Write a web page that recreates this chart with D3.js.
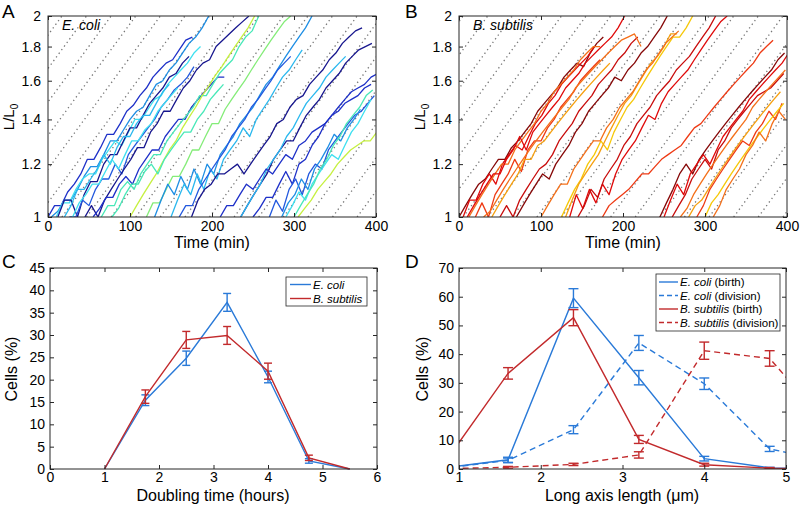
<!DOCTYPE html>
<html><head><meta charset="utf-8">
<script src="https://cdn.jsdelivr.net/npm/d3@7"></script>
<style>body{margin:0;background:#fff}</style>
</head><body>
<script>
// ---------------- DATA ----------------
// Panel A/B: single-cell length trajectories, L/L0 sampled every 8 min from start time
const sampleStep = 8;
const ecoliPalette = ["#17168e","#1e30c8","#2258de","#1e8ee4","#2ab8ee","#3ee0f0","#48e8b8","#84ec78","#c6f040"];
const ecoliStart = [0,4,10,12,20,26,45,30,55,65,100,120,78,130,150,175,160,235,250,270,235,290,305,285,300,210];
const ecoliColor = [1,3,5,0,4,2,0,5,1,6,8,7,6,3,4,0,2,0,1,2,4,5,8,3,6,1];
const ecoliLength = [
 [1.00,1.04,1.04,1.09,1.12,1.16,1.22,1.22,1.27,1.33,1.33,1.38,1.44,1.47,1.52,1.56,1.62,1.66,1.70,1.72,1.78,1.84,1.86],
 [1.00,1.02,1.06,1.06,1.10,1.15,1.19,1.19,1.24,1.30,1.30,1.35,1.40,1.44,1.46,1.52,1.58,1.60,1.66,1.70,1.76,1.82,1.86,1.92,2.00],
 [1.00,1.05,1.05,1.10,1.14,1.16,1.16,1.22,1.26,1.30,1.28,1.34,1.40,1.40,1.45,1.50,1.52,1.58,1.62,1.66,1.70,1.76,1.80],
 [1.00,1.06,1.06,1.00,1.08,1.13,1.13,1.20,1.24,1.24,1.30,1.36,1.36,1.42,1.48,1.52,1.56,1.62,1.64,1.70,1.74],
 [1.00,1.04,1.10,1.10,1.14,1.18,1.24,1.20,1.27,1.32,1.32,1.38,1.42,1.42,1.48,1.54,1.58],
 [1.00,1.00,1.06,1.04,1.10,1.14,1.14,1.20,1.16,1.24,1.28,1.32,1.36,1.40,1.46,1.50,1.55,1.58,1.62,1.68],
 [1.00,1.04,1.00,1.06,1.10,1.14,1.18,1.22,1.27,1.27,1.34,1.38,1.44,1.44,1.50,1.56,1.60,1.66,1.70,1.72,1.80,1.84,1.88,1.92,1.96,2.00],
 [1.00,1.05,1.08,1.12,1.12,1.17,1.22,1.18,1.24,1.30,1.30,1.35,1.38,1.44,1.48,1.52,1.56],
 [1.00,1.03,1.07,1.07,1.12,1.15,1.12,1.18,1.22,1.26,1.26,1.32,1.36,1.40,1.40,1.46,1.50,1.54,1.58,1.62,1.62],
 [1.00,1.04,1.04,1.10,1.13,1.10,1.16,1.20,1.24,1.24,1.30,1.34,1.38,1.42,1.46,1.52,1.52,1.58,1.64,1.68,1.72,1.80,1.86,1.90,2.00],
 [1.00,1.04,1.08,1.12,1.16,1.21,1.26,1.30,1.36,1.41,1.46,1.52,1.57,1.63,1.68,1.74,1.80,1.86,1.92,2.00],
 [1.00,1.05,1.05,1.10,1.15,1.15,1.20,1.26,1.26,1.32,1.38,1.38,1.45,1.50,1.55,1.60,1.66,1.72,1.78,1.84,1.90,1.96,2.00],
 [1.00,1.03,1.08,1.12,1.12,1.17,1.20,1.16,1.22,1.26,1.30,1.34,1.34,1.40,1.44,1.50,1.54,1.58],
 [1.00,1.06,1.12,1.08,1.15,1.10,1.18,1.12,1.20,1.16,1.24,1.28,1.32,1.38,1.42,1.46,1.52,1.58,1.62,1.68,1.74,1.80,1.86,1.92,2.00],
 [1.00,1.06,1.12,1.08,1.16,1.10,1.18,1.14,1.22,1.26,1.30,1.36,1.32,1.40,1.45,1.50,1.56,1.62,1.66,1.72,1.78],
 [1.00,1.06,1.10,1.12,1.16,1.16,1.18,1.20,1.16,1.20,1.24,1.28,1.32,1.38,1.40,1.46,1.50,1.52,1.58,1.62,1.66,1.72,1.76,1.82,1.86,1.90,1.92],
 [1.00,1.04,1.04,1.10,1.14,1.18,1.22,1.26,1.32,1.36,1.40,1.46,1.50,1.55,1.60,1.66,1.70,1.74],
 [1.00,1.04,1.08,1.12,1.16,1.22,1.26,1.30,1.30,1.36,1.42,1.46,1.50,1.56,1.60,1.64,1.70,1.74,1.78,1.80,1.82],
 [1.00,1.03,1.07,1.07,1.12,1.17,1.12,1.20,1.22,1.28,1.32,1.38,1.42,1.46,1.50,1.54,1.56,1.58,1.62,1.64],
 [1.00,1.06,1.02,1.10,1.14,1.08,1.16,1.20,1.18,1.26,1.30,1.34,1.38,1.42,1.44,1.48,1.52],
 [1.00,1.04,1.08,1.12,1.18,1.22,1.26,1.32,1.36,1.42,1.48,1.52,1.56,1.62,1.66,1.70,1.74],
 [1.00,1.04,1.09,1.06,1.12,1.16,1.20,1.24,1.22,1.28,1.34,1.38,1.44,1.50],
 [1.00,1.03,1.06,1.10,1.13,1.16,1.20,1.23,1.26,1.28,1.30,1.30,1.34],
 [1.00,1.05,1.08,1.14,1.10,1.18,1.22,1.27,1.33,1.30,1.36,1.40,1.45],
 [1.00,1.04,1.08,1.12,1.18,1.22,1.28,1.32,1.38,1.42,1.46,1.52,1.55],
 [1.00,1.04,1.04,1.08,1.12,1.10,1.14,1.18,1.16,1.20,1.24,1.22,1.28,1.30,1.34,1.36,1.38,1.42,1.44,1.48,1.50,1.52,1.56,1.58]
];
const bsubPalette = ["#860808","#c80c0c","#e00a0a","#ee3a14","#f4701a","#f6a010","#f6c808"];
const bsubStart = [0,5,12,20,10,40,50,125,130,135,145,175,100,70,245,250,260,270,280,290,300,310,30];
const bsubColor = [0,2,4,3,2,5,1,6,5,2,1,3,4,0,0,2,1,4,5,3,6,4,4];
const bsubLength = [
 [1.00,1.04,1.08,1.12,1.14,1.18,1.22,1.22,1.27,1.30,1.34,1.38,1.44,1.48,1.52,1.56,1.62,1.66,1.70,1.68,1.76,1.82,1.86],
 [1.00,1.06,1.06,1.12,1.16,1.12,1.20,1.24,1.28,1.26,1.32,1.38,1.42,1.48,1.52,1.58,1.62,1.66,1.70,1.74,1.80],
 [1.00,1.04,1.08,1.12,1.16,1.20,1.20,1.26,1.30,1.34,1.38,1.44,1.48,1.54,1.58,1.62,1.66,1.72,1.76,1.80,1.80],
 [1.00,1.05,1.00,1.08,1.12,1.16,1.22,1.17,1.26,1.30,1.30,1.36,1.40,1.46,1.50,1.54,1.60,1.64,1.68,1.72],
 [1.00,1.04,1.08,1.12,1.16,1.16,1.22,1.26,1.32,1.26,1.34,1.38,1.42,1.46,1.50,1.56,1.60,1.64,1.70,1.74,1.78,1.82,1.86,1.92,2.00],
 [1.00,1.04,1.08,1.12,1.16,1.22,1.22,1.28,1.30,1.34,1.38,1.42,1.46,1.50,1.54,1.58,1.62,1.66,1.70],
 [1.00,1.04,1.00,1.06,1.10,1.14,1.18,1.20,1.24,1.30,1.34,1.38,1.44,1.48,1.52,1.58,1.62,1.66,1.72,1.76,1.82,1.86],
 [1.00,1.05,1.10,1.14,1.20,1.24,1.30,1.26,1.34,1.40,1.46,1.50,1.56,1.62,1.68,1.74,1.80,1.86,1.86,1.92,2.00],
 [1.00,1.06,1.12,1.16,1.20,1.24,1.30,1.36,1.42,1.48,1.52,1.58,1.64,1.70,1.74,1.80,1.88,1.88],
 [1.00,1.08,1.03,1.10,1.05,1.12,1.08,1.16,1.22,1.26,1.30,1.36,1.42,1.40,1.48,1.54,1.58,1.62,1.66,1.72,1.78,1.84,1.90,1.96,2.00],
 [1.00,1.04,1.10,1.07,1.14,1.18,1.22,1.28,1.32,1.38,1.42,1.46,1.52,1.56,1.60,1.66,1.70,1.74,1.80,1.86,1.92,2.00],
 [1.00,1.04,1.06,1.08,1.10,1.13,1.16,1.16,1.19,1.22,1.24,1.26,1.28,1.32,1.36,1.38,1.42,1.46,1.50,1.54,1.58,1.62,1.66,1.70,1.76,1.80,1.84],
 [1.00,1.04,1.08,1.12,1.12,1.18,1.22,1.26,1.30,1.30,1.36,1.40,1.46,1.50,1.54,1.60,1.66,1.70,1.76,1.82,1.86,1.90],
 [1.00,1.04,1.08,1.12,1.16,1.14,1.20,1.24,1.28,1.34,1.38,1.44,1.48,1.52,1.56,1.62,1.60,1.66,1.70,1.76,1.80,1.86,1.92,2.00],
 [1.00,1.05,1.10,1.16,1.20,1.16,1.22,1.26,1.30,1.34,1.38,1.42,1.46,1.50,1.54,1.58,1.62,1.66,1.72,1.76],
 [1.00,1.06,1.12,1.08,1.16,1.20,1.24,1.20,1.26,1.32,1.36,1.40,1.44,1.50,1.54,1.58,1.62,1.66,1.70,1.76],
 [1.00,1.04,1.08,1.14,1.18,1.22,1.18,1.26,1.30,1.36,1.40,1.44,1.48,1.52,1.54,1.56,1.60,1.64],
 [1.00,1.03,1.08,1.12,1.16,1.20,1.24,1.28,1.32,1.36,1.40,1.46,1.50,1.54,1.58,1.62,1.66],
 [1.00,1.04,1.06,1.10,1.14,1.18,1.22,1.26,1.30,1.34,1.38,1.42,1.46,1.50,1.54],
 [1.00,1.04,1.10,1.14,1.18,1.22,1.26,1.30,1.28,1.34,1.38,1.44,1.40,1.48],
 [1.00,1.05,1.08,1.12,1.16,1.20,1.24,1.28,1.32,1.36,1.40,1.44,1.48],
 [1.00,1.04,1.10,1.14,1.18,1.24,1.28,1.34,1.30,1.38,1.44,1.40],
 [1.00,1.02,1.06,1.10,1.14,1.18,1.22,1.26,1.30,1.34,1.38,1.42,1.46,1.50,1.56,1.60,1.64,1.68,1.72,1.76,1.80,1.84,1.86,1.88,1.80]
];
// reference doubling lines (dotted)
const refDoubling = 180;   // min
const refSpacing = 30;     // min
const refOffsetA = 17, refOffsetB = 5;
const timeTicks = [0,100,200,300,400];
const ratioTicks = [1,1.2,1.4,1.6,1.8,2];

// Panel C
const doublingHours = [1,1.75,2.5,3.25,4,4.75,5.5];
const ecoliDoubling = [0,15.4,24.8,37.3,20.6,1.8,0];
const ecoliDoublingErr = [0,1.2,1.6,2.0,1.3,0.5,0];
const bsubDoubling = [0,16.2,28.9,29.9,21.9,2.5,0];
const bsubDoublingErr = [0,1.5,1.9,2.0,1.8,0.6,0];
const cXTicks = [0,1,2,3,4,5,6];
const cYTicks = [0,5,10,15,20,25,30,35,40,45];

// Panel D
const lengthUm = [0.8,1.6,2.4,3.2,4.0,4.8,5.6];
const ecoliBirth = [0.3,3.2,59.5,31.8,3.6,0.4,0];
const ecoliBirthErr = [0,0.9,3.3,2.5,0.8,0.2,0];
const ecoliDivision = [0.2,3.0,13.7,43.9,29.7,7.0,2.2];
const ecoliDivisionErr = [0,0.8,1.4,2.6,2.0,0.9,0];
const bsubBirth = [1.2,33.3,52.7,10.3,1.5,0.3,0];
const bsubBirthErr = [0,2.0,2.8,1.4,0.5,0.2,0];
const bsubDivision = [0.1,0.6,1.6,4.9,41.2,38.5,12.5];
const bsubDivisionErr = [0,0.3,0.4,1.1,3.0,2.7,0];
const dXTicks = [1,2,3,4,5];
const dYTicks = [0,10,20,30,40,50,60,70];

const blue = "#2a7ad8", red = "#c22a2c";

// ---------------- DRAW ----------------
const svg = d3.select("body").append("svg").attr("width",800).attr("height",506)
  .style("font-family","'Liberation Sans', Arial, Helvetica, sans-serif");
svg.append("rect").attr("width",800).attr("height",506).attr("fill","#fff");

function axes(g, x, y, xt, yt, fx, fy, padX, padY){
  const [x0,x1] = x.range(), [y0,y1] = y.range();
  const b = g.append("g").attr("transform",`translate(0,${y0})`)
    .call(d3.axisBottom(x).tickValues(xt).tickFormat(fx).tickSizeInner(-4).tickSizeOuter(0).tickPadding(padX));
  const t = g.append("g").attr("transform",`translate(0,${y1})`)
    .call(d3.axisTop(x).tickValues(xt).tickFormat("").tickSizeInner(-4).tickSizeOuter(0));
  const l = g.append("g").attr("transform",`translate(${x0},0)`)
    .call(d3.axisLeft(y).tickValues(yt).tickFormat(fy).tickSizeInner(-4).tickSizeOuter(0).tickPadding(padY));
  const r = g.append("g").attr("transform",`translate(${x1},0)`)
    .call(d3.axisRight(y).tickValues(yt).tickFormat("").tickSizeInner(-4).tickSizeOuter(0));
  [b,t,l,r].forEach(a=>{
    a.select(".domain").remove();
    a.selectAll(".tick line").attr("stroke","#262626");
    a.selectAll("text").attr("font-size","14px").attr("fill","#000").attr("font-family","'Liberation Sans', Arial, sans-serif");
  });
  g.append("rect").attr("x",x0).attr("y",y1).attr("width",x1-x0).attr("height",y0-y1)
    .attr("fill","none").attr("stroke","#262626").attr("stroke-width",1);
}

function clip(id, x, y){
  svg.append("clipPath").attr("id",id).append("rect")
    .attr("x",x.range()[0]).attr("y",y.range()[1])
    .attr("width",x.range()[1]-x.range()[0]).attr("height",y.range()[0]-y.range()[1]);
}

function tracePanel(left,right,top,bottom,starts,colors,lengths,palette,offset,id){
  const x = d3.scaleLinear().domain([0,400]).range([left,right]);
  const y = d3.scaleLog().base(2).domain([1,2]).range([bottom,top]);
  clip(id,x,y);
  const g = svg.append("g");
  const pg = g.append("g").attr("clip-path",`url(#${id})`);
  const refs = d3.range(offset-refDoubling-refSpacing*2, 420, refSpacing);
  pg.selectAll("line.ref").data(refs).join("line")
    .attr("x1",d=>x(d)).attr("y1",y(1)).attr("x2",d=>x(d+refDoubling)).attr("y2",y(2))
    .attr("stroke","#777").attr("stroke-width",1.3).attr("stroke-dasharray","1.3,3.2");
  const line = d3.line().x(d=>x(d[0])).y(d=>y(d[1]));
  lengths.forEach((vals,i)=>{
    const pts = vals.map((v,j)=>[starts[i]+j*sampleStep, v]);
    pg.append("path").datum(pts).attr("d",line).attr("fill","none")
      .attr("stroke",palette[colors[i]]).attr("stroke-width",1.3).attr("stroke-linejoin","round");
  });
  axes(g,x,y,timeTicks,ratioTicks,d3.format("d"),d=>(d===1||d===2)?String(d):d.toFixed(1),4,7);
  return {x,y,g};
}

function yLabel(g, xpos, ypos, size, build){
  const t = g.append("text").attr("transform",`translate(${xpos},${ypos}) rotate(-90)`)
    .attr("text-anchor","middle").attr("font-size",size).attr("fill","#000");
  build(t);
}

// Panel A
const A = tracePanel(48,376,16,217,ecoliStart,ecoliColor,ecoliLength,ecoliPalette,refOffsetA,"clipA");
A.g.append("text").attr("x",212).attr("y",248).attr("text-anchor","middle").attr("font-size","16px").text("Time (min)");
yLabel(A.g,14,117,"15px",t=>{t.append("tspan").text("L/L");t.append("tspan").attr("font-size","10px").attr("dy","4").text("0");});
A.g.append("text").attr("x",62).attr("y",30).attr("font-size","14px").attr("font-style","italic").text("E. coli");
svg.append("text").attr("x",2).attr("y",18).attr("font-size","19px").text("A");

// Panel B
const B = tracePanel(459,787,16,217,bsubStart,bsubColor,bsubLength,bsubPalette,refOffsetB,"clipB");
B.g.append("text").attr("x",623).attr("y",248).attr("text-anchor","middle").attr("font-size","16px").text("Time (min)");
yLabel(B.g,425,117,"15px",t=>{t.append("tspan").text("L/L");t.append("tspan").attr("font-size","10px").attr("dy","4").text("0");});
B.g.append("text").attr("x",473).attr("y",30).attr("font-size","14px").attr("font-style","italic").text("B. subtilis");
svg.append("text").attr("x",405).attr("y",18).attr("font-size","19px").text("B");

// error bars helper
function series(g, x, y, xs, ys, es, color, dashed, cap){
  const pts = xs.map((v,i)=>[v,ys[i],es[i]]);
  g.append("path").datum(pts).attr("d",d3.line().x(d=>x(d[0])).y(d=>y(d[1])))
    .attr("fill","none").attr("stroke",color).attr("stroke-width",1.4)
    .attr("stroke-dasharray",dashed?"6,4":null);
  const eb = g.selectAll(null).data(pts.filter(d=>d[2]>0)).join("g");
  eb.append("line").attr("x1",d=>x(d[0])).attr("x2",d=>x(d[0])).attr("y1",d=>y(d[1]-d[2])).attr("y2",d=>y(d[1]+d[2]))
    .attr("stroke",color).attr("stroke-width",1.4);
  [-1,1].forEach(s=>{
    eb.append("line").attr("x1",d=>x(d[0])-cap).attr("x2",d=>x(d[0])+cap)
      .attr("y1",d=>y(d[1]+s*d[2])).attr("y2",d=>y(d[1]+s*d[2]))
      .attr("stroke",color).attr("stroke-width",1.4);
  });
}

function legend(g, x0, y0, w, h, entries, lx0, lx1, tx, fs){
  g.append("rect").attr("x",x0).attr("y",y0).attr("width",w).attr("height",h)
    .attr("fill","#fff").attr("stroke","#262626").attr("stroke-width",0.8);
  entries.forEach(e=>{
    g.append("line").attr("x1",lx0).attr("x2",lx1).attr("y1",e.y).attr("y2",e.y)
      .attr("stroke",e.color).attr("stroke-width",1.4).attr("stroke-dasharray",e.dashed?"5,3":null);
    const t = g.append("text").attr("x",tx).attr("y",e.y+4).attr("font-size",fs);
    t.append("tspan").attr("font-style","italic").text(e.name);
    if(e.suffix) t.append("tspan").text(" "+e.suffix);
  });
}

// Panel C
{
  const x = d3.scaleLinear().domain([0,6]).range([50,377]);
  const y = d3.scaleLinear().domain([0,45]).range([469,268]);
  const g = svg.append("g");
  series(g,x,y,doublingHours,ecoliDoubling,ecoliDoublingErr,blue,false,4);
  series(g,x,y,doublingHours,bsubDoubling,bsubDoublingErr,red,false,4);
  axes(g,x,y,cXTicks,cYTicks,d3.format("d"),d3.format("d"),3,5);
  g.append("text").attr("x",213).attr("y",501).attr("text-anchor","middle").attr("font-size","16px").text("Doubling time (hours)");
  yLabel(g,17,369,"16px",t=>t.text("Cells (%)"));
  legend(g,286,277,81,29,[
    {y:284.5,color:blue,name:"E. coli"},
    {y:298.5,color:red,name:"B. subtilis"}],290,311,313,"11.5px");
  svg.append("text").attr("x",2).attr("y",268).attr("font-size","19px").text("C");
}

// Panel D
{
  const x = d3.scaleLinear().domain([1,5]).range([459,786]);
  const y = d3.scaleLinear().domain([0,70]).range([469,268]);
  clip("clipD",x,y);
  const g = svg.append("g");
  const pg = g.append("g").attr("clip-path","url(#clipD)");
  series(pg,x,y,lengthUm,ecoliBirth,ecoliBirthErr,blue,false,5);
  series(pg,x,y,lengthUm,ecoliDivision,ecoliDivisionErr,blue,true,5);
  series(pg,x,y,lengthUm,bsubBirth,bsubBirthErr,red,false,5);
  series(pg,x,y,lengthUm,bsubDivision,bsubDivisionErr,red,true,5);
  axes(g,x,y,dXTicks,dYTicks,d3.format("d"),d3.format("d"),3,5);
  g.append("text").attr("x",622).attr("y",501).attr("text-anchor","middle").attr("font-size","16px").text("Long axis length (μm)");
  yLabel(g,428,369,"16px",t=>t.text("Cells (%)"));
  legend(g,656,274,124,57,[
    {y:282,color:blue,name:"E. coli",suffix:"(birth)"},
    {y:295.5,color:blue,name:"E. coli",suffix:"(division)",dashed:true},
    {y:309,color:red,name:"B. subtilis",suffix:"(birth)"},
    {y:322.5,color:red,name:"B. subtilis",suffix:"(division)",dashed:true}],659,678,680,"11.5px");
  svg.append("text").attr("x",405).attr("y",268).attr("font-size","19px").text("D");
}
</script>
</body></html>
